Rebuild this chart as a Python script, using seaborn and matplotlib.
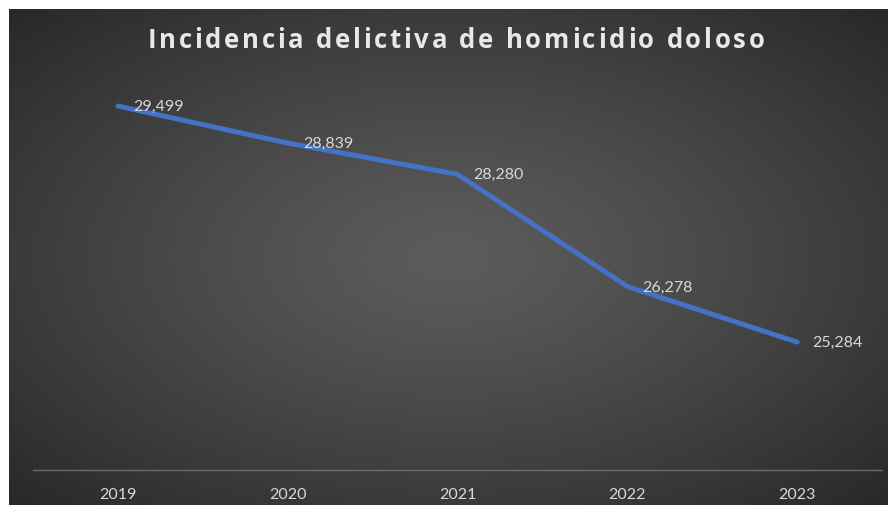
import numpy as np
import pandas as pd
import matplotlib
matplotlib.use("Agg")
import matplotlib.pyplot as plt
import seaborn as sns

years = ["2019", "2020", "2021", "2022", "2023"]
values = [29499, 28839, 28280, 26278, 25284]
title = "Incidencia delictiva de homicidio doloso"

df = pd.DataFrame({"year": years, "value": values})

sns.set_style("white")
plt.rcParams["font.family"] = ["Lato", "DejaVu Sans"]

W, H = 888, 506
fig = plt.figure(figsize=(W / 100, H / 100), dpi=100, facecolor="white")

# background panel with radial gradient
bg = fig.add_axes([9 / W, 0, 878 / W, 496 / H])
bg.set_axis_off()
ny, nx = 300, 530
yy, xx = np.mgrid[0:ny, 0:nx]
cx, cy = nx * 0.5, ny * 0.5
r = np.sqrt(((xx - cx) / (nx * 0.5)) ** 2 + ((yy - cy) / (ny * 0.5)) ** 2) / np.sqrt(2)
r = np.clip(r, 0, 1)
c0, c1 = 92, 40
g = (c0 + (c1 - c0) * r ** 1.2) / 255.0
img = np.dstack([g, g, g])
bg.imshow(img, aspect="auto", extent=[0, 1, 0, 1], interpolation="bilinear")
bg.set_xlim(0, 1)
bg.set_ylim(0, 1)

ax = fig.add_axes([33 / W, 35 / H, 849 / W, 392 / H])
ax.patch.set_alpha(0)
sns.lineplot(data=df, x="year", y="value", ax=ax, color="#4472C4", linewidth=3.6,
             solid_capstyle="round", solid_joinstyle="round", sort=False)
ax.set_xlim(-0.5, 4.5)
ax.set_ylim(23000, 30000)
ax.set_xlabel("")
ax.set_ylabel("")
ax.set_yticks([])
for s in ["top", "right", "left"]:
    ax.spines[s].set_visible(False)
ax.spines["bottom"].set_color("#6b6b6b")
ax.spines["bottom"].set_linewidth(1.0)
ax.tick_params(axis="x", length=0, pad=12, labelsize=11.5, labelcolor="#d9d9d9")

for i, v in enumerate(values):
    ax.annotate(f"{v:,}", (i, v), xytext=(11, 0), textcoords="offset points",
                ha="left", va="center", color="#d9d9d9", fontsize=11.5)

# title with letter spacing
renderer = fig.canvas.get_renderer()
tkw = dict(color="#e8e8e8", fontsize=18.5, fontweight="bold", va="baseline", ha="left",
           family=["Open Sans", "DejaVu Sans"])


def text_w(s):
    t = fig.text(0, 0, s + "|", **tkw)
    w = t.get_window_extent(renderer).width
    t.remove()
    t = fig.text(0, 0, "|", **tkw)
    w -= t.get_window_extent(renderer).width
    t.remove()
    return w


target_w = 617.0
nat_w = text_w(title)
spacing = (target_w - nat_w) / (len(title) - 1)
x0 = 456 - target_w / 2
ty = 1 - 48 / H
for i, ch in enumerate(title):
    if ch == " ":
        continue
    xp = x0 + text_w(title[:i]) + i * spacing
    fig.text(xp / W, ty, ch, **tkw)

fig.savefig("out.png", dpi=100, facecolor="white")
